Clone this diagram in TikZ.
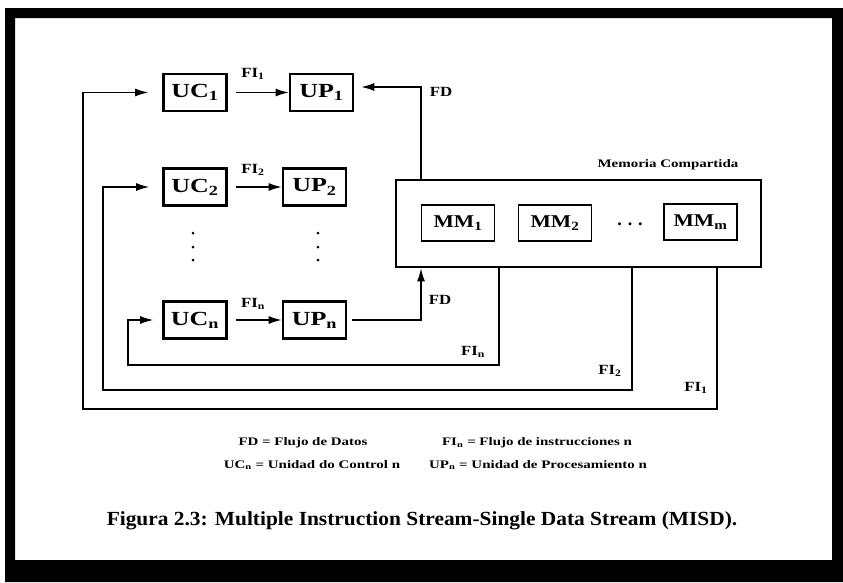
\documentclass[tikz,border=0pt]{standalone}
\usepackage{fontspec}
\usepackage{graphicx}
\setmainfont{Liberation Serif}
\usetikzlibrary{arrows.meta}
\newcommand{\widetext}[2]{\scalebox{#1}[1]{#2}}
\begin{document}
\begin{tikzpicture}[x=1pt,y=-1pt,
  unit/.style={draw, line width=2.6pt, minimum width=63pt, minimum height=37pt,
    inner sep=0pt, font=\fontsize{20}{22}\selectfont\bfseries},
  mmbox/.style={draw, line width=1.8pt, minimum width=73pt, minimum height=36pt,
    inner sep=0pt, font=\fontsize{18}{20}\selectfont\bfseries},
  membox/.style={draw, line width=2.6pt, minimum width=365pt, minimum height=87pt, inner sep=0pt},
  flow/.style={line width=1.5pt, -{Latex[length=13pt,width=8pt]}},
  lbl/.style={font=\fontsize{14}{16}\selectfont\bfseries, inner sep=0pt},
  legend/.style={font=\fontsize{11.5}{13}\selectfont\bfseries, inner sep=0pt},
  dot/.style={circle, fill, inner sep=0pt, minimum size=3pt}]

\useasboundingbox (0,0) rectangle (843,582);
% page frame
\fill[black, even odd rule] (5,8) rectangle (843,582) (15,18) rectangle (832,560);

% control and processing units
\node[unit] (uc1) at (195,92.5) {\widetext{1.3}{UC\textsubscript{1}}};
\node[unit] (up1) at (321.5,92.5) {\widetext{1.3}{UP\textsubscript{1}}};
\node[unit] (uc2) at (195,187) {\widetext{1.3}{UC\textsubscript{2}}};
\node[unit] (up2) at (314.5,187) {\widetext{1.3}{UP\textsubscript{2}}};
\node[unit] (ucn) at (195,320) {\widetext{1.3}{UC\textsubscript{n}}};
\node[unit] (upn) at (314.5,320) {\widetext{1.3}{UP\textsubscript{n}}};

% vertical ellipses
\foreach \yy [count=\i] in {233,247,260} {
  \node[dot] (va\i) at (193,\yy) {};
  \node[dot] (vb\i) at (318,\yy) {};
}

% shared memory
\node[membox] (mem) at (578.5,223.5) {};
\node[mmbox] (mm1) at (458,223) {\widetext{1.2}{MM\textsubscript{1}}};
\node[mmbox] (mm2) at (555,223) {\widetext{1.2}{MM\textsubscript{2}}};
\node[font=\fontsize{18}{20}\selectfont\bfseries, inner sep=0pt] (mdots) at (630,224) {. . .};
\node[mmbox] (mmm) at (700.5,222) {\widetext{1.2}{MM\textsubscript{m}}};
\node[legend] (memlbl) at (668,165) {\widetext{1.3}{Memoria Compartida}};

% instruction streams between units
\draw[flow] ([xshift=8pt]uc1.east) -- (up1.west);
\draw[flow] ([xshift=8pt]uc2.east) -- (up2.west);
\draw[flow] ([xshift=8pt]ucn.east) -- (upn.west);
\node[lbl] (fi1a) at (253,74) {\widetext{1.2}{FI\textsubscript{1}}};
\node[lbl] (fi2a) at (253,170) {\widetext{1.2}{FI\textsubscript{2}}};
\node[lbl] (fina) at (253,304) {\widetext{1.2}{FI\textsubscript{n}}};

% data stream
\coordinate (fdtop) at (421,87);
\draw[flow] (fdtop |- mem.north) -- (fdtop) -- ([xshift=7pt,yshift=5.5pt]up1.east);
\node[lbl] (fdup) at (441,92) {\widetext{1.2}{FD}};
\coordinate (fdbot) at (421,320);
\draw[flow] ([xshift=5pt]upn.east) -- (fdbot) -- (fdbot |- mem.south);
\node[lbl] (fddown) at (440,300) {\widetext{1.2}{FD}};

% instruction streams from memory back to control units
\coordinate (r1) at (717,409); \coordinate (l1) at (83,409);
\draw[flow] (r1 |- mem.south) -- (r1) -- (l1) |- ([xshift=-14pt]uc1.west);
\coordinate (r2) at (632,390); \coordinate (l2) at (103,390);
\draw[flow] (r2 |- mem.south) -- (r2) -- (l2) |- ([xshift=-13pt]uc2.west);
\coordinate (rn) at (499,365); \coordinate (ln) at (128,365);
\draw[flow] (rn |- mem.south) -- (rn) -- (ln) |- ([xshift=-9pt]ucn.west);
\node[lbl] (finb) at (473,352) {\widetext{1.2}{FI\textsubscript{n}}};
\node[lbl] (fi2b) at (610,371) {\widetext{1.2}{FI\textsubscript{2}}};
\node[lbl] (fi1b) at (696,388) {\widetext{1.2}{FI\textsubscript{1}}};

% legend
\node[legend] (lg1) at (303,443) {\widetext{1.3}{FD = Flujo de Datos}};
\node[legend] (lg2) at (537,443) {\widetext{1.3}{FI\textsubscript{n} = Flujo de instrucciones n}};
\node[legend] (lg3) at (312,465) {\widetext{1.3}{UC\textsubscript{n} = Unidad do Control n}};
\node[legend] (lg4) at (538,465) {\widetext{1.3}{UP\textsubscript{n} = Unidad de Procesamiento n}};

% caption
\node[font=\fontsize{20}{22}\selectfont\bfseries, inner sep=0pt] (cap) at (422,521)
  {\widetext{1.07}{Figura 2.3: Multiple Instruction Stream-Single Data Stream (MISD).}};
\end{tikzpicture}
\end{document}
